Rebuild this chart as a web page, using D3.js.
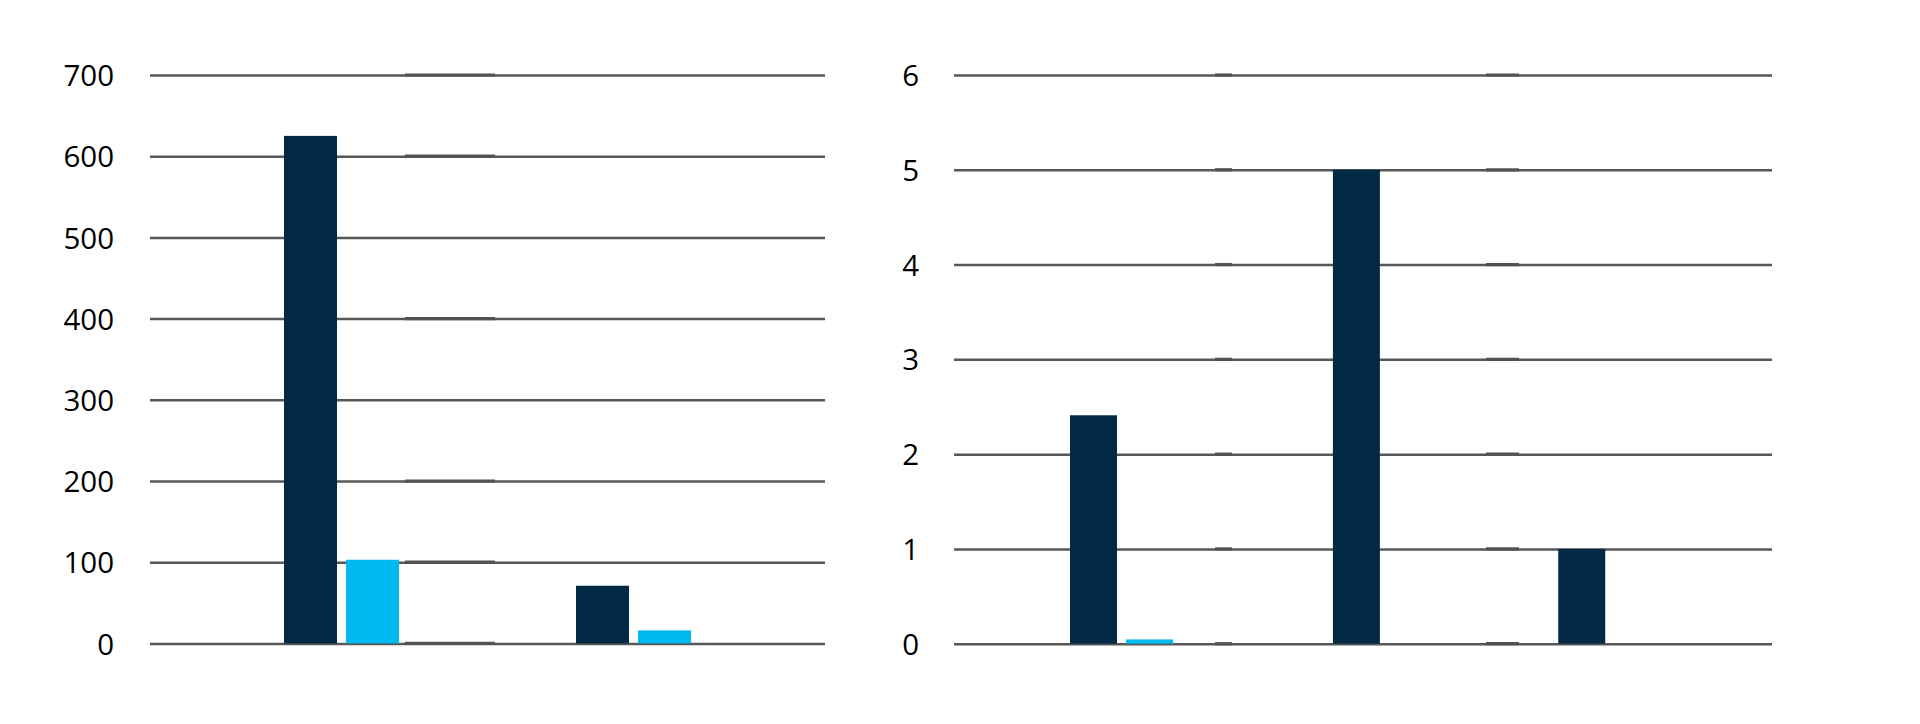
<!DOCTYPE html>
<html>
<head>
<meta charset="utf-8">
<script src="https://cdn.jsdelivr.net/npm/d3@7"></script>
<style>
  html, body { margin: 0; padding: 0; background: #ffffff; }
  svg { display: block; }
  .tick text { font-family: "Open Sans", "Noto Sans", sans-serif; font-size: 29.5px; fill: #000; }
</style>
</head>
<body>
<svg id="chart" width="1920" height="724"></svg>
<script>
// ---- Data ----
const leftCategories = ["Category 1", "Category 2"];
const seriesNames = ["Series 1", "Series 2"];
const leftSeries1 = [625, 71];
const leftSeries2 = [103, 16];
const leftTicks = [0, 100, 200, 300, 400, 500, 600, 700];

const rightPeriods = [0, 7, 13];          // date-axis periods of the right chart
const rightSeries1 = [2.41, 5.0, 1.0];
const rightSeries2 = [0.045, 0, 0];
const rightTicks = [0, 1, 2, 3, 4, 5, 6];

const colors = ["#022A44", "#00B9F1"];
const gridColor = "#575757";

const svg = d3.select("#chart");

function drawGrid(g, y, ticks, x0, x1, pad, extraSegs, segTicks) {
  const axis = d3.axisLeft(y).tickValues(ticks).tickFormat(d3.format("d"))
    .tickSize(-(x1 - x0)).tickPadding(pad);
  const ag = g.append("g").attr("transform", `translate(${x0},0)`).call(axis);
  ag.select(".domain").remove();
  ag.selectAll(".tick line").attr("stroke", gridColor).attr("stroke-width", 2.5);
  ag.selectAll(".tick text").attr("dy", "0.36em");
  // overlapping grid segments (slightly thicker)
  const segG = g.append("g");
  segTicks.forEach(t => {
    extraSegs.forEach(s => {
      segG.append("line")
        .attr("x1", s[0]).attr("x2", s[1])
        .attr("y1", y(t)).attr("y2", y(t))
        .attr("stroke", "#525252").attr("stroke-width", 3.2);
    });
  });
}

// ---- Left chart ----
{
  const x0 = 150, x1 = 825;
  const y = d3.scaleLinear().domain([0, 700]).range([643.4, 75]);
  const g = svg.append("g");
  drawGrid(g, y, leftTicks, x0, x1, 36, [[405, 495]], [0, 100, 200, 400, 600, 700]);

  const x = d3.scaleBand().domain(leftCategories).range([x0, x1]).paddingInner(0).paddingOuter(0.1558);
  const xs = d3.scaleBand().domain(seriesNames).range([88.5, 203.5]).paddingInner(0.145);
  const vals = [leftSeries1, leftSeries2];
  seriesNames.forEach((s, si) => {
    g.append("g").selectAll("rect")
      .data(leftCategories.map((c, i) => ({ c, v: vals[si][i] })))
      .join("rect")
      .attr("x", d => x(d.c) + xs(s))
      .attr("width", xs.bandwidth())
      .attr("y", d => y(d.v))
      .attr("height", d => y(0) - y(d.v))
      .attr("fill", colors[si]);
  });
}

// ---- Right chart ----
{
  const x0 = 954, x1 = 1772;
  const y = d3.scaleLinear().domain([0, 6]).range([643.7, 75]);
  const g = svg.append("g");
  drawGrid(g, y, rightTicks, x0, x1, 35, [[1215, 1232], [1486, 1519]], rightTicks);

  const x = d3.scaleLinear().domain([-4.46, 17.32]).range([x0, x1]);
  const xs = d3.scaleBand().domain(seriesNames).range([-51.5, 51.5]).paddingInner(0.161);
  const vals = [rightSeries1, rightSeries2];
  seriesNames.forEach((s, si) => {
    g.append("g").selectAll("rect")
      .data(rightPeriods.map((p, i) => ({ p, v: vals[si][i] })).filter(d => d.v > 0))
      .join("rect")
      .attr("x", d => x(d.p) + xs(s))
      .attr("width", xs.bandwidth())
      .attr("y", d => y(d.v))
      .attr("height", d => y(0) - y(d.v))
      .attr("fill", colors[si]);
  });
}
</script>
</body>
</html>
